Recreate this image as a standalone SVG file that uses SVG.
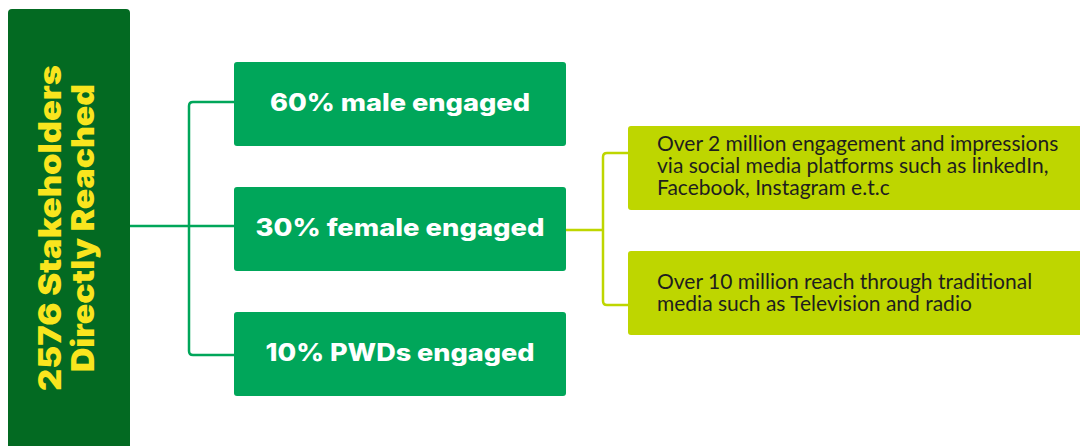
<svg xmlns="http://www.w3.org/2000/svg" width="1080" height="446" viewBox="0 0 1080 446">
  <style>
    .main { fill: #036A22; }
    .green { fill: #00A65A; }
    .lime { fill: #BED600; }
    .ttl { font-family: Inter, "Liberation Sans", sans-serif; font-weight: 900; fill: #F9E51E; font-size: 31px; }
    .gt { font-family: Inter, "Liberation Sans", sans-serif; font-weight: 800; fill: #FFFFFF; font-size: 24px; }
    .lt { font-family: Lato, "Liberation Sans", sans-serif; fill: #1E1E1E; font-size: 21px; }
    .cg { fill: none; stroke: #00A65A; stroke-width: 2.5; }
    .cl { fill: none; stroke: #BED600; stroke-width: 2.5; }
  </style>
  <rect width="1080" height="446" fill="#FFFFFF"/>
  <g id="connectors">
    <path class="cg" d="M127 226 H234"/>
    <path class="cg" d="M234 102 H193 Q189 102 189 106 V351 Q189 355 193 355 H234"/>
    <path class="cl" d="M565 230 H603"/>
    <path class="cl" d="M628 153 H607 Q603 153 603 157 V301 Q603 305 607 305 H628"/>
  </g>
  <g id="node-total">
    <rect class="main" x="8" y="9" width="122" height="450" rx="4"/>
    <g transform="translate(0 228) rotate(-90)">
      <text class="ttl" x="0" y="61" text-anchor="middle" textLength="326" lengthAdjust="spacingAndGlyphs">2576 Stakeholders</text>
      <text class="ttl" x="0" y="94" text-anchor="middle" textLength="288" lengthAdjust="spacingAndGlyphs">Directly Reached</text>
    </g>
  </g>
  <g id="node-male">
    <rect class="green" x="234" y="62" width="332" height="84" rx="3"/>
    <text class="gt" x="400" y="111" text-anchor="middle" textLength="260" lengthAdjust="spacingAndGlyphs">60% male engaged</text>
  </g>
  <g id="node-female">
    <rect class="green" x="234" y="187" width="332" height="84" rx="3"/>
    <text class="gt" x="400" y="236" text-anchor="middle" textLength="289" lengthAdjust="spacingAndGlyphs">30% female engaged</text>
  </g>
  <g id="node-pwd">
    <rect class="green" x="234" y="312" width="332" height="84" rx="3"/>
    <text class="gt" x="400" y="361" text-anchor="middle" textLength="269" lengthAdjust="spacingAndGlyphs">10% PWDs engaged</text>
  </g>
  <g id="node-social">
    <rect class="lime" x="628" y="126" width="460" height="84" rx="3"/>
    <text class="lt" x="657" y="151">Over 2 million engagement and impressions</text>
    <text class="lt" x="657" y="173">via social media platforms such as linkedIn,</text>
    <text class="lt" x="657" y="195">Facebook, Instagram e.t.c</text>
  </g>
  <g id="node-traditional">
    <rect class="lime" x="628" y="251" width="460" height="84" rx="3"/>
    <text class="lt" x="657" y="289">Over 10 million reach through traditional</text>
    <text class="lt" x="657" y="311">media such as Television and radio</text>
  </g>
</svg>
